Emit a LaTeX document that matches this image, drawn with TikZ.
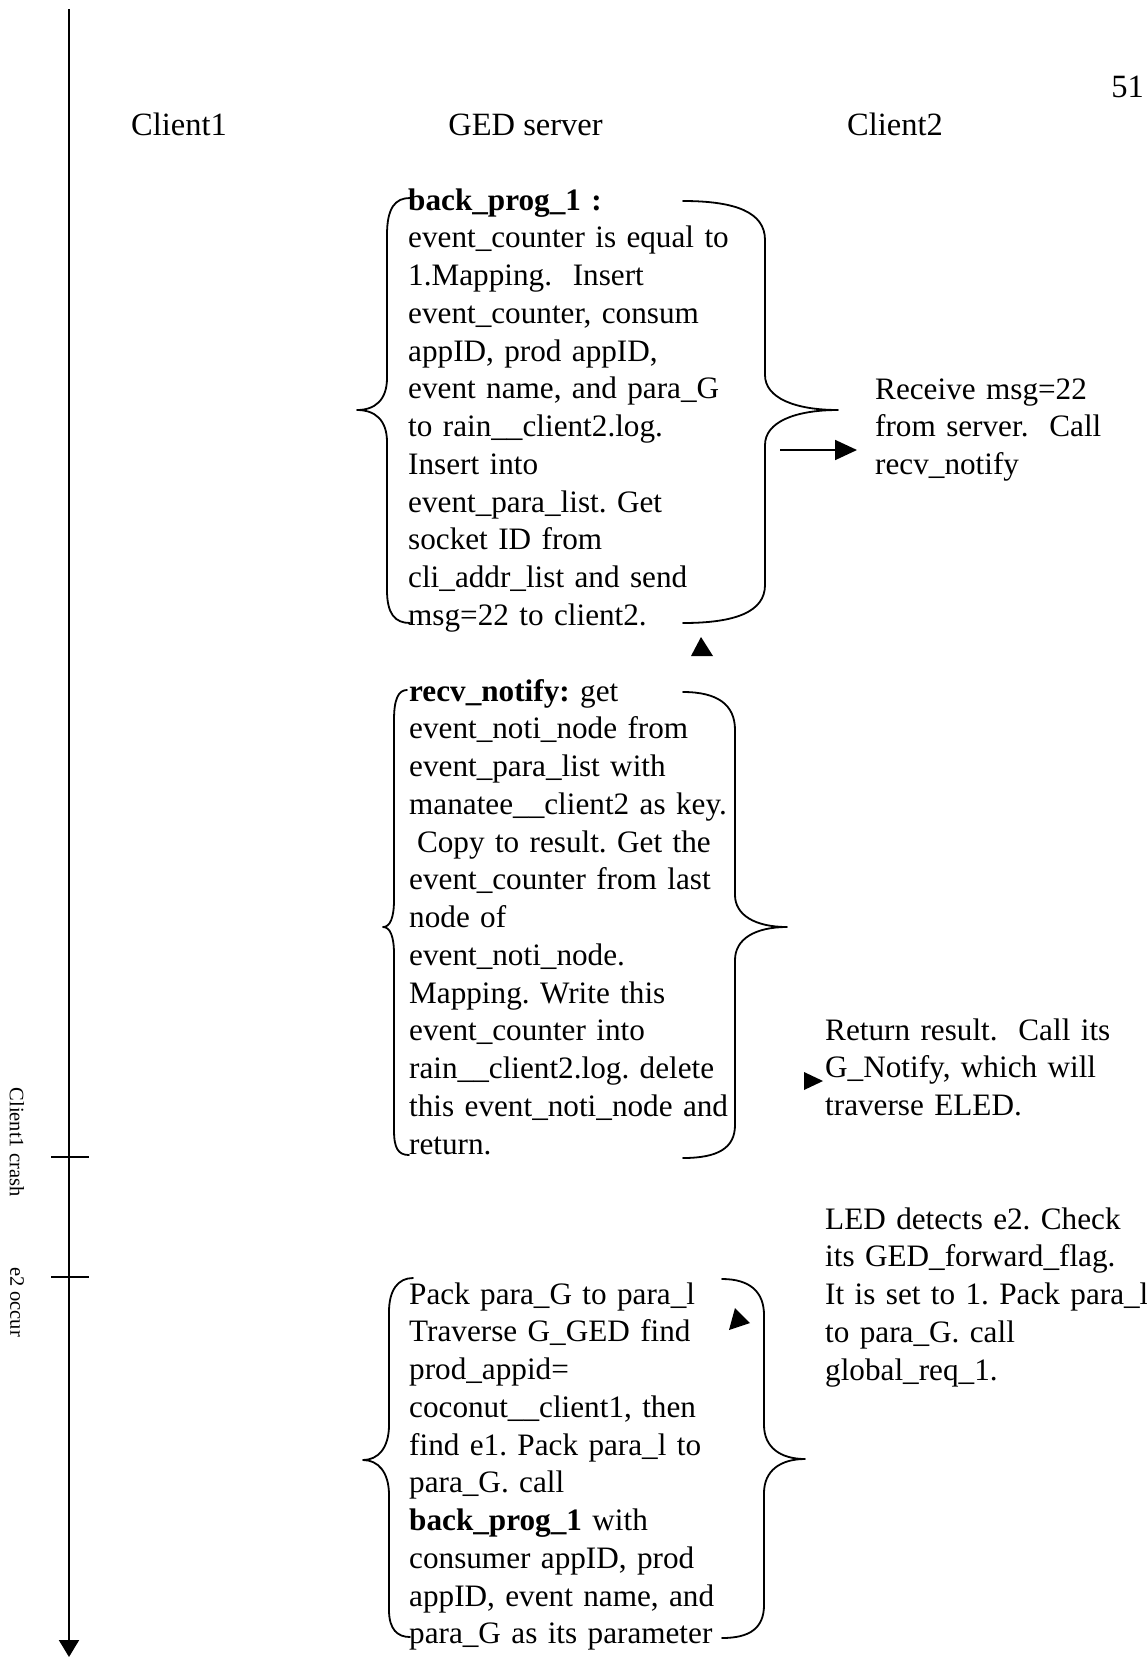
\documentclass[tikz,border=0pt]{standalone}
\usepackage{fontspec}
\setmainfont{Liberation Serif}
\usetikzlibrary{arrows.meta}
\frenchspacing
\begin{document}
\begin{tikzpicture}[x=1pt,y=-1pt,
  txt/.style={font=\fontsize{31.2pt}{37.75pt}\selectfont, inner sep=0pt, anchor=base west, align=left, text width=#1},
  txt/.default=430pt,
  head/.style={font=\fontsize{32.5pt}{37.75pt}\selectfont, inner sep=0pt, anchor=base},
  side/.style={font=\fontsize{20.5pt}{24pt}\selectfont, inner sep=0pt, rotate=-90},
  brace/.style={line width=1.8pt, line join=round, line cap=round},
  axis/.style={line width=2pt},
  head tip/.style={fill=black}
]
\useasboundingbox (0,0) rectangle (1147,1657);

% page number and lane headings
\node[head] (pageno) at (1127.5,97) {51};
\node[head] (client1) at (179,135) {Client1};
\node[head] (server) at (525.5,135) {GED server};
\node[head] (client2) at (895,135) {Client2};

% time axis with its two marks
\coordinate (axtop) at (69,9);
\coordinate (axend) at (69,1657);
\draw[axis, -{Triangle[width=20pt,length=17pt]}] (axtop) -- (axend);
\coordinate (crashL) at (51,1157);
\coordinate (crashR) at (89,1157);
\coordinate (occurL) at (51,1277);
\coordinate (occurR) at (89,1277);
\draw[axis] (crashL) -- (crashR);
\draw[axis] (occurL) -- (occurR);
\node[side] (crash) at (17,1142) {Client1 crash};
\node[side] (occur) at (17,1302) {e2 occur};

% server step 1: back_prog_1
\node[txt] (backprog) at (408,210) {\textbf{back\_prog\_1 :}\\
event\_counter is equal to\\
1.Mapping.\ \ Insert\\
event\_counter, consum\\
appID, prod appID,\\
event name, and para\_G\\
to rain\_\_client2.log.\\
Insert into\\
event\_para\_list. Get\\
socket ID from\\
cli\_addr\_list and send\\
msg=22 to client2.};
\draw[brace] (410,198) .. controls (395,198) and (387,208) .. (387,235) -- (387,378)
  .. controls (387,400) and (375,410) .. (357,410)
  .. controls (375,410) and (387,420) .. (387,442) -- (387,590)
  .. controls (387,614) and (395,623) .. (410,623);
\draw[brace] (683,201) .. controls (735,201) and (765,212) .. (765,240) -- (765,375)
  .. controls (765,398) and (795,410) .. (838,410)
  .. controls (795,410) and (765,422) .. (765,445) -- (765,585)
  .. controls (765,612) and (735,623) .. (683,623);

% client2 reaction
\node[txt=400pt] (recvmsg) at (875,399) {Receive msg=22\\
from server.\ \ Call\\
recv\_notify};
\coordinate (a1s) at (780,450);
\coordinate (a1e) at (857,450);
\draw[line width=1.8pt, -{Triangle[width=20pt,length=22pt]}] (a1s) -- (a1e);

% loose arrow heads
\fill[head tip] (691,656) -- (701,637) -- (713,656) -- cycle;
\fill[head tip] (804,1072) -- (823,1081) -- (804,1090) -- cycle;
\fill[head tip] (735,1308) -- (750,1323) -- (729,1330) -- cycle;

% server step 2: recv_notify
\node[txt] (recvnotify) at (409,701) {\textbf{recv\_notify:} get\\
event\_noti\_node from\\
event\_para\_list with\\
manatee\_\_client2 as key.\\
\hspace*{0.25em}Copy to result. Get the\\
event\_counter from last\\
node of\\
event\_noti\_node.\\
Mapping. Write this\\
event\_counter into\\
rain\_\_client2.log. delete\\
this event\_noti\_node and\\
return.};
\draw[brace] (407,690) .. controls (398,690) and (394,700) .. (394,720) -- (394,900)
  .. controls (394,918) and (390,927) .. (383,927)
  .. controls (390,927) and (394,936) .. (394,954) -- (394,1130)
  .. controls (394,1148) and (398,1155) .. (409,1155);
\draw[brace] (683,692) .. controls (718,692) and (735,705) .. (735,730) -- (735,895)
  .. controls (735,915) and (755,927) .. (787,927)
  .. controls (755,927) and (735,939) .. (735,960) -- (735,1125)
  .. controls (735,1148) and (718,1158) .. (683,1158);

% client2 notes
\node[txt=400pt] (retres) at (825,1040) {Return result.\ \ Call its\\
G\_Notify, which will\\
traverse ELED.};
\node[txt=400pt] (led) at (825,1229) {LED detects e2. Check\\
its GED\_forward\_flag.\\
It is set to 1. Pack para\_l\\
to para\_G. call\\
global\_req\_1.};

% server step 3: global request
\node[txt] (pack) at (409,1304) {Pack para\_G to para\_l\\
Traverse G\_GED find\\
prod\_appid=\\
coconut\_\_client1, then\\
find e1. Pack para\_l to\\
para\_G. call\\
\textbf{back\_prog\_1} with\\
consumer appID, prod\\
appID, event name, and\\
para\_G as its parameter};
\draw[brace] (413,1278) .. controls (398,1278) and (389,1290) .. (389,1312) -- (389,1425)
  .. controls (389,1448) and (378,1460) .. (363,1460)
  .. controls (378,1460) and (389,1472) .. (389,1495) -- (389,1610)
  .. controls (389,1630) and (398,1637) .. (410,1637);
\draw[brace] (722,1279) .. controls (750,1279) and (764,1292) .. (764,1315) -- (764,1425)
  .. controls (764,1447) and (780,1459) .. (805,1459)
  .. controls (780,1459) and (764,1471) .. (764,1493) -- (764,1605)
  .. controls (764,1628) and (750,1638) .. (722,1638);
\end{tikzpicture}
\end{document}
